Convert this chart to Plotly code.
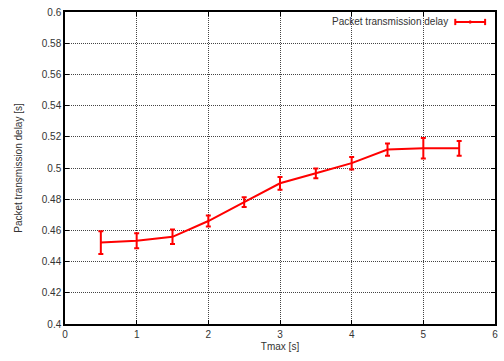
import plotly.graph_objects as go

tmax = [0.5, 1.0, 1.5, 2.0, 2.5, 3.0, 3.5, 4.0, 4.5, 5.0, 5.5]
delay = [0.4522, 0.4533, 0.4559, 0.4660, 0.4781, 0.4902, 0.4966, 0.5031, 0.5118, 0.5127, 0.5126]
err = [0.0073, 0.0048, 0.0046, 0.0035, 0.0031, 0.0041, 0.0031, 0.0040, 0.0039, 0.0066, 0.0047]

series_name = "Packet transmission delay"
xticks = [0, 1, 2, 3, 4, 5, 6]
yticks = [0.4, 0.42, 0.44, 0.46, 0.48, 0.5, 0.52, 0.54, 0.56, 0.58, 0.6]

red = "#ff0000"
fig = go.Figure()
fig.add_trace(go.Scatter(
    x=tmax, y=delay, mode="lines", name=series_name,
    line=dict(color=red, width=2),
    error_y=dict(type="data", array=err, visible=True, color=red, thickness=2, width=2.5),
    showlegend=False,
))

font = dict(family="Liberation Sans, Arial, sans-serif", size=10, color="#333333")
axis_common = dict(
    showline=True, linecolor="black", linewidth=1.5, mirror="allticks",
    ticks="inside", ticklen=4, tickcolor="black",
    showgrid=True, gridcolor="#444444", griddash="1px,1px", gridwidth=1,
    zeroline=False, tickfont=font,
)
fig.update_xaxes(range=[0, 6], tickvals=xticks, ticktext=[str(v) for v in xticks],
                 title=dict(text="Tmax [s]", font=font, standoff=4), **axis_common)
fig.update_yaxes(range=[0.4, 0.6], tickvals=yticks, ticktext=[f"{v:g}" for v in yticks],
                 title=dict(text="Packet transmission delay [s]", font=font, standoff=17), **axis_common)

# legend key (gnuplot style: text left, sample on right)
ly = 0.968
x0, x1 = 0.9076, 0.977
fig.add_annotation(xref="paper", yref="paper", x=x0 - 0.012, y=ly, xanchor="right", yanchor="middle",
                   text=series_name, showarrow=False, font=font)
fig.add_shape(type="line", xref="paper", yref="paper", x0=x0, x1=x1, y0=ly, y1=ly,
              line=dict(color=red, width=2))
for xx in (x0, (x0 + x1) / 2, x1):
    h = 0.01 if xx != (x0 + x1) / 2 else 0.005
    fig.add_shape(type="line", xref="paper", yref="paper", x0=xx, x1=xx, y0=ly - h, y1=ly + h,
                  line=dict(color=red, width=2))

fig.update_layout(
    width=504, height=361,
    margin=dict(l=65, r=6, t=10, b=37),
    plot_bgcolor="white", paper_bgcolor="white",
    font=font,
)
fig.write_html("out.html")
